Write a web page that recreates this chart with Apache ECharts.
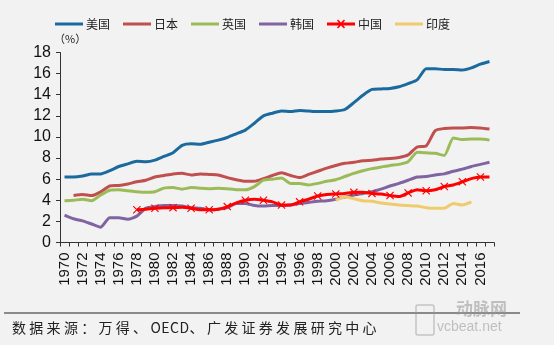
<!DOCTYPE html>
<html><head><meta charset="utf-8">
<script src="https://cdn.jsdelivr.net/npm/echarts@6/dist/echarts.min.js"></script>
<style>html,body{margin:0;padding:0;background:#F2F2F2;}#wrap{position:relative;width:554px;height:345px;}#c{width:554px;height:345px;}
#src{position:absolute;left:12px;top:317px;font:14px "Noto Sans CJK SC",sans-serif;letter-spacing:3.3px;color:#222;white-space:nowrap;}
#src span.l{letter-spacing:0.5px;}</style>
</head><body><div id="wrap"><div id="c"></div><div id="src"></div></div>
<script>
var years = [];
for (var y = 1970; y <= 2017; y++) years.push(String(y));
var usa = [6.2,6.2,6.3,6.5,6.5,6.8,7.2,7.45,7.7,7.65,7.8,8.15,8.5,9.2,9.35,9.3,9.5,9.7,9.95,10.3,10.65,11.3,12.0,12.25,12.45,12.4,12.5,12.45,12.4,12.4,12.45,12.6,13.25,13.95,14.5,14.55,14.6,14.75,15.05,15.4,16.45,16.45,16.4,16.4,16.35,16.55,16.9,17.15];
var japan = [null,4.45,4.55,4.45,4.8,5.35,5.4,5.55,5.75,5.9,6.2,6.35,6.5,6.55,6.4,6.5,6.45,6.4,6.15,5.95,5.8,5.8,6.05,6.35,6.6,6.35,6.15,6.45,6.75,7.05,7.3,7.5,7.6,7.75,7.8,7.9,7.95,8.05,8.3,9.05,9.15,10.6,10.8,10.85,10.85,10.9,10.85,10.75];
var uk = [3.95,4.0,4.1,3.95,4.5,4.95,5.0,4.9,4.8,4.75,4.8,5.15,5.2,5.05,5.2,5.15,5.1,5.15,5.1,5.0,5.0,5.3,5.9,6.0,6.1,5.6,5.6,5.45,5.6,5.8,5.95,6.25,6.55,6.8,7.0,7.15,7.3,7.4,7.65,8.55,8.5,8.45,8.25,9.9,9.75,9.8,9.8,9.7];
var korea = [2.6,2.25,2.05,1.75,1.45,2.35,2.35,2.2,2.5,3.25,3.4,3.5,3.5,3.45,3.3,3.25,3.1,3.15,3.3,3.7,3.7,3.5,3.45,3.5,3.5,3.55,3.7,3.8,3.9,3.95,4.1,4.3,4.5,4.65,4.8,5.05,5.35,5.6,5.9,6.2,6.25,6.4,6.5,6.75,6.95,7.2,7.4,7.6];
var china = [null,null,null,null,null,null,null,null,3.1,3.15,3.25,3.3,3.3,3.35,3.25,3.1,3.1,3.15,3.4,3.75,4.0,4.1,4.0,3.85,3.55,3.55,3.85,4.1,4.4,4.55,4.6,4.65,4.75,4.75,4.65,4.6,4.45,4.35,4.7,5.0,4.9,5.0,5.3,5.45,5.75,6.05,6.2,6.2];
var india = [null,null,null,null,null,null,null,null,null,null,null,null,null,null,null,null,null,null,null,null,null,null,null,null,null,null,null,null,null,null,4.0,4.3,4.15,3.95,3.9,3.75,3.65,3.55,3.5,3.45,3.3,3.25,3.25,3.7,3.55,3.85,null,null];
var names = ['美国','日本','英国','韩国','中国','印度'];
var source = '数据来源：万得、OECD、广发证券发展研究中心';

(function(){
  var el = document.getElementById('src');
  var parts = source.split('OECD');
  el.appendChild(document.createTextNode(parts[0]));
  var sp = document.createElement('span'); sp.className = 'l'; sp.textContent = 'OECD';
  el.appendChild(sp);
  el.appendChild(document.createTextNode(parts[1]));
})();

var chart = echarts.init(document.getElementById('c'), null, {renderer:'canvas'});
var xMark = 'path://M0,1L1,0L5,4L9,0L10,1L6,5L10,9L9,10L5,6L1,10L0,9L4,5Z';
var plainIcon = 'path://M0,0L0.01,0L0,0.01Z M0,3.6L28,3.6L28,6.4L0,6.4Z M28,10L27.99,10L28,9.99Z';
var chinaIcon = 'path://M0,0L0.01,0L0,0.01Z M0,3.6L28,3.6L28,6.4L0,6.4Z M28,10L27.99,10L28,9.99Z M10,1.5L11,0.5L14,3.5L17,0.5L18,1.5L15,5L18,8.5L17,9.5L14,6.5L11,9.5L10,8.5L13,5Z';
function line(name, data, color, extra) {
  var s = {name:name, type:'line', data:data, symbol:'none', smooth:0.2, connectNulls:false,
    lineStyle:{color:color, width:3}, itemStyle:{color:color}, emphasis:{disabled:true}};
  if (extra) for (var k in extra) s[k] = extra[k];
  return s;
}
chart.setOption({
  backgroundColor:'#F2F2F2',
  animation:false,
  textStyle:{fontFamily:'"Noto Sans CJK SC", Arial, sans-serif'},
  legend:{data:names.map(function(n){return {name:n, icon: n==='中国'?chinaIcon:plainIcon};}),
    top:18, left:55, padding:0, itemWidth:28, itemHeight:10, itemGap:13,
    textStyle:{fontSize:12, color:'#222', fontFamily:'"Noto Sans CJK SC", sans-serif', padding:[0,0,0,-2]}},
  grid:{left:60, right:60, top:52.5, bottom:102.5, containLabel:false},
  xAxis:{type:'category', data:years, boundaryGap:true,
    axisLine:{lineStyle:{color:'#333', width:1}},
    axisTick:{show:true, interval:0, length:4, lineStyle:{color:'#333'}},
    axisLabel:{interval:1, rotate:90, margin:10, color:'#111', fontSize:15,
      fontFamily:'"Liberation Sans Narrow", Arial, sans-serif'}},
  yAxis:{type:'value', min:0, max:18, interval:2,
    name:'（%）', nameLocation:'end', nameGap:4,
    nameTextStyle:{fontSize:11, color:'#222', align:'left', padding:[0,0,0,-6]},
    splitLine:{show:false},
    axisLine:{show:true, lineStyle:{color:'#333'}},
    axisTick:{show:true, length:4, lineStyle:{color:'#333'}},
    axisLabel:{fontSize:16, color:'#111', margin:9, fontFamily:'Arial, "Liberation Sans", sans-serif'}},
  series:[
    line('美国', usa, '#1A6A9E'),
    line('日本', japan, '#C0504D'),
    line('英国', uk, '#9BBB59'),
    line('韩国', korea, '#8064A2'),
    line('印度', india, '#EFCB6E'),
    line('中国', china, '#FF0000', {symbol:xMark, symbolSize:8, showSymbol:true})
  ],
  graphic:[
    {type:'line', shape:{x1:4, y1:313, x2:520, y2:313}, style:{stroke:'#222', lineWidth:1.2}},
    {type:'rect', shape:{x:416, y:305, width:18, height:30, r:2}, style:{fill:'none', stroke:'rgba(150,150,150,0.5)', lineWidth:1.5}},
    {type:'text', left:456, top:300, style:{text:'动脉网', fill:'rgba(150,150,150,0.55)',
      font:'bold 17px "Noto Sans CJK SC", sans-serif'}},
    {type:'text', left:437, top:320, style:{text:'vcbeat.net', fill:'rgba(150,150,150,0.55)',
      font:'14px Arial, sans-serif'}}
  ]
});
</script></body></html>
